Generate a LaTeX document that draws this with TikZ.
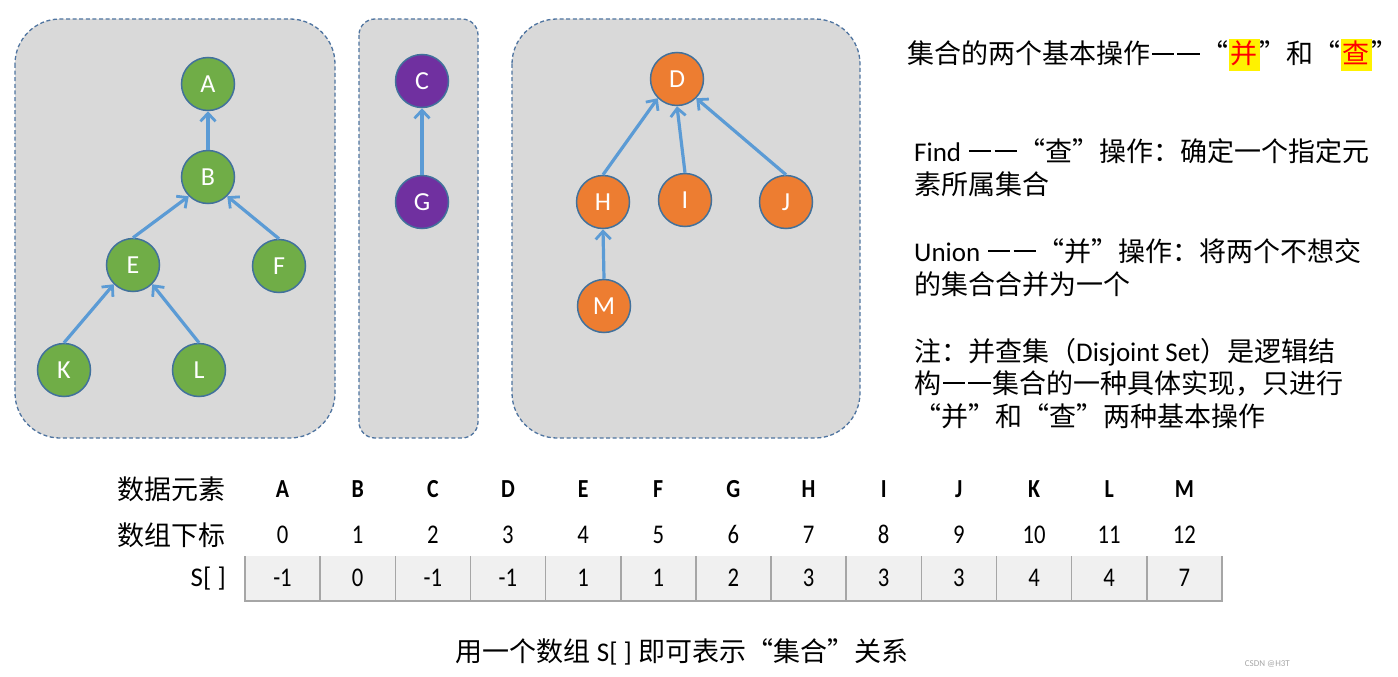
\documentclass[tikz,border=0pt]{standalone}
\usepackage{fontspec}
\setmainfont{Carlito}
\newfontfamily\cjk{Noto Sans CJK SC}
\newfontfamily\narrow[FakeStretch=0.84]{Carlito}
\usetikzlibrary{arrows.meta}
\definecolor{boxfill}{HTML}{D9D9D9}
\definecolor{boxline}{HTML}{4F74A0}
\definecolor{gr}{HTML}{70AD47}
\definecolor{pu}{HTML}{7030A0}
\definecolor{orn}{HTML}{ED7D31}
\definecolor{nodeline}{HTML}{41719C}
\definecolor{arrc}{HTML}{5B9BD5}
\definecolor{cellfill}{HTML}{F0F0F0}
\definecolor{cellline}{HTML}{A6A6A6}
\newcommand{\hl}[1]{{\setlength{\fboxsep}{2pt}\colorbox{yellow}{\textcolor{red}{\rule[-5pt]{0pt}{28pt}#1}}}}
\newcommand{\dd}{\hbox to 1.9em{\hss\rule[0.33em]{0.82em}{0.085em}\hskip0.12em\rule[0.33em]{0.82em}{0.085em}\hss}}
\begin{document}
\begin{tikzpicture}[x=1pt,y=-1pt,
  grp/.style={draw=boxline, fill=boxfill, dash pattern=on 4pt off 2.6pt, line width=1.3pt},
  vtx/.style={circle, minimum size=53pt, inner sep=0pt, draw=nodeline, line width=1.5pt, text=white, font=\fontsize{26}{30}\selectfont},
  gv/.style={vtx, fill=gr},
  pv/.style={vtx, fill=pu},
  ov/.style={vtx, fill=orn},
  arr/.style={draw=arrc, line width=3.2pt, -{Straight Barb[length=8pt,width=15pt,line width=2.8pt]}},
  txt/.style={anchor=base west, inner sep=0pt, font=\fontsize{27}{30}\selectfont},
  hdr/.style={anchor=base, inner sep=0pt, font=\fontsize{26}{30}\selectfont\narrow\bfseries},
  num/.style={anchor=base, inner sep=0pt, font=\fontsize{27}{30}\selectfont\narrow},
  lab/.style={anchor=base east, inner sep=0pt, font=\fontsize{27}{30}\selectfont}
]
\useasboundingbox (0,0) rectangle (1398,677);

% group boxes
\draw[grp, rounded corners=45pt] (15,19) rectangle (335,438);
\draw[grp, rounded corners=16pt] (359,19) rectangle (478,438);
\draw[grp, rounded corners=45pt] (512,19) rectangle (860,438);

% tree 1
\node[gv] (A) at (208,84) {A};
\node[gv] (B) at (208,177) {B};
\node[gv] (E) at (133,265) {E};
\node[gv] (F) at (279,266) {F};
\node[gv] (K) at (64,370) {K};
\node[gv] (L) at (199,370) {L};
\draw[arr] (B.north) -- (A.south);
\draw[arr] (E.north) -- (B.south west);
\draw[arr] (F.north) -- (B.south east);
\draw[arr] (K.north) -- (E.south west);
\draw[arr] (L.north) -- (E.south east);

% tree 2
\node[pv] (C) at (422,81) {C};
\node[pv] (G) at (422,202) {G};
\draw[arr] (G.north) -- (C.south);

% tree 3
\node[ov] (D) at (677,79) {D};
\node[ov] (H) at (603,202) {H};
\node[ov] (I) at (685,200) {I};
\node[ov] (J) at (786,202) {J};
\node[ov] (M) at (604,306) {M};
\draw[arr] (H.north) -- (D.south west);
\draw[arr] (I.north) -- (D.south);
\draw[arr] (J.north) -- (D.south east);
\draw[arr] (M.north) -- (H.south);

% right text
\node[txt] (t1) at (907,64) {\cjk 集合的两个基本操作\dd“\hl{并}”和“\hl{查}”};
\node[txt] (t2) at (914,161) {Find {\cjk \dd“查”操作：确定一个指定元}};
\node[txt] (t3) at (914,194) {\cjk 素所属集合};
\node[txt] (t4) at (914,261) {Union {\cjk \dd“并”操作：将两个不想交}};
\node[txt] (t5) at (914,294) {\cjk 的集合合并为一个};
\node[txt] (t6) at (914,361) {{\cjk 注：并查集（}Disjoint Set{\cjk ）是逻辑结}};
\node[txt] (t7) at (914,393) {\cjk 构\dd 集合的一种具体实现，只进行};
\node[txt] (t8) at (914,426) {\cjk “并”和“查”两种基本操作};

% table
\fill[cellfill] (245,556) rectangle (1222,601);
\foreach \i in {0,...,13} {
  \draw[cellline, line width=1.5pt] ({245+75.15*\i},556) -- ({245+75.15*\i},601);
}
\draw[cellline, line width=2.2pt] (244,601) -- (1223,601);

\node[lab] (r1) at (226,499) {\cjk 数据元素};
\node[lab] (r2) at (226,545) {\cjk 数组下标};
\node[lab] (r3) at (226,586) {S[ ]};

\foreach \l [count=\i from 0] in {A,B,C,D,E,F,G,H,I,J,K,L,M} {
  \node[hdr] (h\i) at ({282.5+75.15*\i},497.5) {\l};
  \node[num] (x\i) at ({282.5+75.15*\i},543.5) {\i};
}
\foreach \v [count=\i from 0] in {-1,0,-1,-1,1,1,2,3,3,3,4,4,7} {
  \node[num] (s\i) at ({282.5+75.15*\i},586.5) {\v};
}

% caption
\node[anchor=base, inner sep=0pt, font=\fontsize{27}{30}\selectfont] (cap) at (682,661) {{\cjk 用一个数组 }S[ ] {\cjk 即可表示“集合”关系}};

% watermark
\node[anchor=base east, inner sep=0pt, text=black!35, font=\fontsize{9}{10}\selectfont] (wm) at (1290,666) {CSDN @H3T};
\end{tikzpicture}
\end{document}
